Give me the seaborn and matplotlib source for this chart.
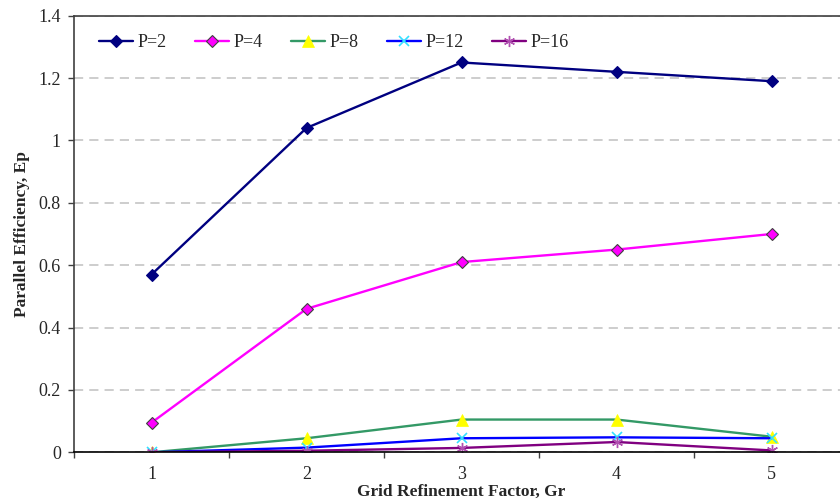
import matplotlib
matplotlib.use("Agg")
import matplotlib.pyplot as plt
from matplotlib.ticker import FixedLocator, FixedFormatter
import numpy as np
import pandas as pd
import seaborn as sns

# Grid refinement factors (category axis)
grid_factor = [1, 2, 3, 4, 5]

# Parallel efficiency for each processor count
ep_p2 = [0.57, 1.04, 1.25, 1.22, 1.19]
ep_p4 = [0.095, 0.46, 0.61, 0.65, 0.70]
ep_p8 = [0.0, 0.045, 0.105, 0.105, 0.05]
ep_p12 = [0.0, 0.015, 0.045, 0.048, 0.045]
ep_p16 = [0.0, 0.005, 0.014, 0.033, 0.006]

series_names = ["P=2", "P=4", "P=8", "P=12", "P=16"]
series_values = [ep_p2, ep_p4, ep_p8, ep_p12, ep_p16]

y_ticks = [0, 0.2, 0.4, 0.6, 0.8, 1.0, 1.2, 1.4]
y_tick_labels = ["0", "0.2", "0.4", "0.6", "0.8", "1", "1.2", "1.4"]

sns.set_style("white")
plt.rcParams["font.family"] = ["Liberation Serif", "DejaVu Serif"]

df = pd.DataFrame(
    [(name, g, v) for name, vals in zip(series_names, series_values)
     for g, v in zip(grid_factor, vals)],
    columns=["series", "Gr", "Ep"],
)

styles = {
    "P=2": dict(color="#000080", marker="D", markersize=6,
                markerfacecolor="#000080", markeredgecolor="#000080", markeredgewidth=0.8),
    "P=4": dict(color="#FF00FF", marker="D", markersize=6,
                markerfacecolor="#FF00FF", markeredgecolor="#404040", markeredgewidth=0.8),
    "P=8": dict(color="#339966", marker="^", markersize=8,
                markerfacecolor="#FFFF00", markeredgecolor="#FFFF00", markeredgewidth=0.5),
    "P=12": dict(color="#0000FF", marker="x", markersize=7,
                 markerfacecolor="#00FFFF", markeredgecolor="#33E0FF", markeredgewidth=1.2),
    "P=16": dict(color="#800080", marker=(6, 2, 0), markersize=8,
                 markerfacecolor="#B050B0", markeredgecolor="#B050B0", markeredgewidth=1.0),
}

fig = plt.figure(figsize=(8.4, 5.0), dpi=100)
ax = fig.add_axes([74 / 840, (500 - 452.3) / 500, 775 / 840, 436.6 / 500])

for name in series_names:
    sub = df[df["series"] == name]
    sns.lineplot(data=sub, x="Gr", y="Ep", ax=ax, label=name,
                 linewidth=1.7, **styles[name])

# Axis ranges and ticks
ax.set_xlim(0.5, 5.5)
ax.set_ylim(0, 1.4)
ax.xaxis.set_major_locator(FixedLocator(grid_factor))
ax.xaxis.set_minor_locator(FixedLocator([0.5, 1.5, 2.5, 3.5, 4.5]))
ax.yaxis.set_major_locator(FixedLocator(y_ticks))
ax.yaxis.set_major_formatter(FixedFormatter(y_tick_labels))

ax.tick_params(axis="x", which="major", length=0, pad=10, labelsize=13)
ax.tick_params(axis="x", which="minor", length=4.5, width=1.0, direction="out",
               color="#404040", bottom=True)
ax.tick_params(axis="y", which="major", length=4.5, width=1.0, direction="out",
               color="#404040", pad=5, labelsize=13, left=True)

# Horizontal dashed gridlines (none on the top border)
ax.yaxis.grid(True, color="#C0C0C0", linestyle=(0, (6, 4)), linewidth=1.1)
ax.xaxis.grid(False)
ax.set_axisbelow(True)

for side in ["left", "top"]:
    ax.spines[side].set_visible(True)
    ax.spines[side].set_color("#404040")
    ax.spines[side].set_linewidth(1.2)
ax.spines["bottom"].set_color("black")
ax.spines["bottom"].set_linewidth(1.2)
ax.spines["right"].set_visible(False)

ax.set_xlabel("Grid Refinement Factor, Gr", fontsize=12.5, fontweight="bold")
ax.xaxis.set_label_coords(0.5, (452.3 - 483.5) / 436.6)
ax.set_ylabel("Parallel Efficiency, Ep", fontsize=12.5, fontweight="bold", labelpad=6)

ax.legend(loc="center left", bbox_to_anchor=(25 / 775, 1 - 27 / 436.6), ncol=5,
          frameon=False, fontsize=13, handlelength=1.9, columnspacing=1.55,
          handletextpad=0.25, borderaxespad=0.0, borderpad=0.0)

fig.savefig("out.png", dpi=100)
